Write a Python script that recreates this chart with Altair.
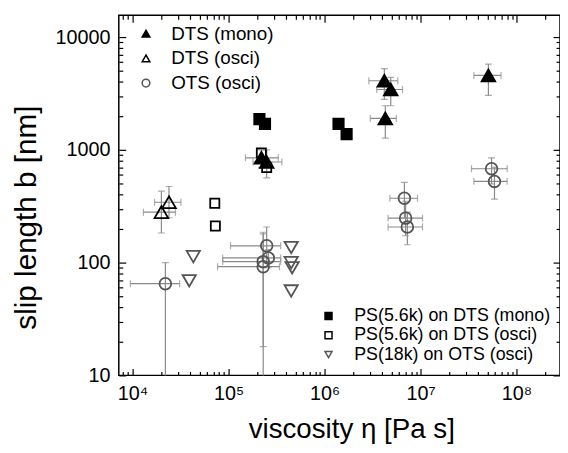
import altair as alt
import pandas as pd

# ---------------- data ----------------
# DTS (mono): filled up-triangles with error bars
dts_mono_x = [4.2e6, 4.9e6, 4.3e6, 5.1e7, 2.2e5, 2.5e5]
dts_mono_y = [4100, 3430, 1900, 4570, 850, 780]
dts_mono_xlo = [2.9e6, 3.5e6, 3.0e6, 3.6e7, 1.5e5, 1.8e5]
dts_mono_xhi = [5.8e6, 6.5e6, 5.6e6, 6.9e7, 3.3e5, 3.6e5]
dts_mono_ylo = [2800, 2460, 1270, 3040, 700, 565]
dts_mono_yhi = [5250, 4400, 2460, 5760, 1000, 1000]

# DTS (osci): open up-triangles with error bars
dts_osci_x = [2.4e4, 2.0e4]
dts_osci_y = [343, 280]
dts_osci_xlo = [1.7e4, 1.3e4]
dts_osci_xhi = [3.2e4, 2.8e4]
dts_osci_ylo = [250, 183]
dts_osci_yhi = [473, 430]

# OTS (osci): open grey circles with error bars
ots_x = [2.2e4, 2.5e5, 2.6e5, 2.3e5, 2.3e5, 6.8e6, 7.0e6, 7.3e6, 5.5e7, 5.9e7]
ots_y = [65, 141, 110, 102, 92, 372, 248, 207, 680, 525]
ots_xlo = [9.5e3, 1.05e5, 8.7e4, 8.7e4, 7.7e4, 4.8e6, 4.6e6, 4.6e6, 3.4e7, 3.6e7]
ots_xhi = [3.1e4, 3.5e5, 3.5e5, 3.5e5, 3.4e5, 9.3e6, 1.05e7, 1.05e7, 8.0e7, 8.0e7]
ots_ylo = [1, 100, 90, 18, 1, 250, 173, 144, 500, 365]
ots_yhi = [100, 207, 130, 186, 180, 515, 350, 280, 850, 700]

# PS(5.6k) on DTS (mono): filled squares
ps_mono_x = [2.1e5, 2.4e5, 1.4e6, 1.7e6]
ps_mono_y = [1870, 1700, 1700, 1380]
# PS(5.6k) on DTS (osci): open squares
ps_osci_x = [7.2e4, 7.3e4, 2.2e5, 2.5e5]
ps_osci_y = [336, 211, 940, 695]
# PS(18k) on OTS (osci): open grey down-triangles
ps18_x = [4.3e4, 3.9e4, 4.5e5, 4.5e5, 4.6e5, 4.5e5]
ps18_y = [113, 69, 136, 100, 90, 56]

names_a = ["DTS (mono)", "DTS (osci)", "OTS (osci)"]
names_b = ["PS(5.6k) on DTS (mono)", "PS(5.6k) on DTS (osci)", "PS(18k) on OTS (osci)"]

x_major = [1e4, 1e5, 1e6, 1e7, 1e8]
y_major = [10, 100, 1000, 10000]
x_minor = [m * 10 ** k for k in range(3, 9) for m in range(2, 10) if 7200 < m * 10 ** k < 2.8e8]
y_minor = [m * 10 ** k for k in range(1, 4) for m in range(2, 10)]

# ---------------- tables ----------------
dfA = pd.concat([
    pd.DataFrame({"x": dts_mono_x, "y": dts_mono_y, "s": names_a[0]}),
    pd.DataFrame({"x": dts_osci_x, "y": dts_osci_y, "s": names_a[1]}),
    pd.DataFrame({"x": ots_x, "y": ots_y, "s": names_a[2]}),
], ignore_index=True)

dfB = pd.concat([
    pd.DataFrame({"x": ps_mono_x, "y": ps_mono_y, "t": names_b[0]}),
    pd.DataFrame({"x": ps_osci_x, "y": ps_osci_y, "t": names_b[1]}),
    pd.DataFrame({"x": ps18_x, "y": ps18_y, "t": names_b[2]}),
], ignore_index=True)

dfE = pd.concat([
    pd.DataFrame({"x": dts_mono_x, "y": dts_mono_y, "xlo": dts_mono_xlo, "xhi": dts_mono_xhi,
                  "ylo": dts_mono_ylo, "yhi": dts_mono_yhi}),
    pd.DataFrame({"x": dts_osci_x, "y": dts_osci_y, "xlo": dts_osci_xlo, "xhi": dts_osci_xhi,
                  "ylo": dts_osci_ylo, "yhi": dts_osci_yhi}),
    pd.DataFrame({"x": ots_x, "y": ots_y, "xlo": ots_xlo, "xhi": ots_xhi,
                  "ylo": ots_ylo, "yhi": ots_yhi}),
], ignore_index=True)

# ---------------- scales ----------------
W, H = 446, 364
xs = alt.Scale(type="log", domain=[7200, 2.84e8], nice=False)
ys = alt.Scale(type="log", domain=[10, 15600], nice=False)
FONT = "Liberation Sans"
ECOL = "#8a8a8a"
GREY = "#555555"

# ---------------- error bars ----------------
e = alt.Chart(dfE)
err_h = e.mark_rule(color=ECOL, strokeWidth=1.2, clip=True).encode(
    x=alt.X("xlo:Q", scale=xs, axis=None), x2="xhi:Q",
    y=alt.Y("y:Q", scale=ys, axis=None))
err_v = e.mark_rule(color=ECOL, strokeWidth=1.2, clip=True).encode(
    x=alt.X("x:Q", scale=xs, axis=None),
    y=alt.Y("ylo:Q", scale=ys, axis=None), y2="yhi:Q")
cap_xlo = e.mark_tick(orient="vertical", size=7, thickness=1.2, color=ECOL, clip=True).encode(
    x=alt.X("xlo:Q", scale=xs, axis=None), y=alt.Y("y:Q", scale=ys, axis=None))
cap_xhi = e.mark_tick(orient="vertical", size=7, thickness=1.2, color=ECOL, clip=True).encode(
    x=alt.X("xhi:Q", scale=xs, axis=None), y=alt.Y("y:Q", scale=ys, axis=None))
cap_ylo = e.mark_tick(orient="horizontal", size=7, thickness=1.2, color=ECOL, clip=True).encode(
    x=alt.X("x:Q", scale=xs, axis=None), y=alt.Y("ylo:Q", scale=ys, axis=None))
cap_yhi = e.mark_tick(orient="horizontal", size=7, thickness=1.2, color=ECOL, clip=True).encode(
    x=alt.X("x:Q", scale=xs, axis=None), y=alt.Y("yhi:Q", scale=ys, axis=None))

# ---------------- points ----------------
legA = alt.Legend(orient="none", legendX=18, legendY=9, title=None, symbolSize=60,
                  labelFontSize=19, labelFont=FONT, labelColor="black", labelOffset=16,
                  labelLimit=400, rowPadding=5, symbolStrokeWidth=1.5, padding=0)
sizeA = {"condition": [{"test": "datum.s === 'OTS (osci)'", "value": 140}], "value": 190}
pointsA = alt.Chart(dfA).mark_point(opacity=1, strokeWidth=1.8, clip=True).encode(
    x=alt.X("x:Q", scale=xs, title="viscosity η [Pa s]",
            axis=alt.Axis(orient="bottom", values=x_major, ticks=False, tickSize=0, domain=False,
                          grid=False, labelFontSize=20, labelFont=FONT, labelColor="black",
                          labelPadding=8, labelFlush=False,
                          labelExpr="'10' + ['⁰','¹','²','³','⁴','⁵','⁶','⁷','⁸','⁹'][round(log(datum.value)/LN10)]",
                          titleFontSize=28, titleFont=FONT, titleFontWeight="normal",
                          titleColor="black", titleX=235, titleY=55, titleBaseline="middle")),
    y=alt.Y("y:Q", scale=ys, title="slip length b [nm]",
            axis=alt.Axis(orient="left", values=y_major, ticks=False, tickSize=0, domain=False,
                          grid=False, labelFontSize=20, labelFont=FONT, labelColor="black",
                          labelPadding=9, format="d", labelFlush=False,
                          titleFontSize=30, titleFont=FONT, titleFontWeight="normal",
                          titleColor="black", titleX=-93, titleY=204, titleAngle=-90,
                          titleBaseline="middle")),
    shape=alt.Shape("s:N", scale=alt.Scale(domain=names_a, range=["triangle-up", "triangle-up", "circle"]), legend=legA),
    fill=alt.Fill("s:N", scale=alt.Scale(domain=names_a, range=["black", "transparent", "transparent"]), legend=legA),
    stroke=alt.Stroke("s:N", scale=alt.Scale(domain=names_a, range=["black", "black", GREY]), legend=legA),
    size=sizeA,
)

legB = alt.Legend(orient="none", legendX=203, legendY=295, title=None, symbolSize=50,
                  labelFontSize=18, labelFont=FONT, labelColor="black", labelOffset=17,
                  labelLimit=400, rowPadding=1.5, symbolStrokeWidth=1.5, padding=0)
sizeB = {"condition": [{"test": "datum.t === 'PS(5.6k) on DTS (mono)'", "value": 110},
                       {"test": "datum.t === 'PS(5.6k) on DTS (osci)'", "value": 85}],
         "value": 180}
pointsB = alt.Chart(dfB).mark_point(opacity=1, strokeWidth=1.8, clip=True).encode(
    x=alt.X("x:Q", scale=xs, axis=None),
    y=alt.Y("y:Q", scale=ys, axis=None),
    shape=alt.Shape("t:N", scale=alt.Scale(domain=names_b, range=["square", "square", "triangle-down"]), legend=legB),
    fill=alt.Fill("t:N", scale=alt.Scale(domain=names_b, range=["black", "transparent", "transparent"]), legend=legB),
    stroke=alt.Stroke("t:N", scale=alt.Scale(domain=names_b, range=["black", "black", GREY]), legend=legB),
    size=sizeB,
)

# ---------------- inward ticks on all four sides ----------------
def tick_layer(xorient, xoff, yorient, yoff, xvals, yvals, size):
    xa = alt.Axis(orient=xorient, offset=xoff, values=xvals, labels=False, domain=False,
                  grid=False, ticks=True, tickSize=size, tickColor="black", tickWidth=1.2)
    ya = alt.Axis(orient=yorient, offset=yoff, values=yvals, labels=False, domain=False,
                  grid=False, ticks=True, tickSize=size, tickColor="black", tickWidth=1.2)
    return alt.Chart(dfA).mark_point(opacity=0).encode(
        x=alt.X("x:Q", scale=xs, axis=xa, title=None),
        y=alt.Y("y:Q", scale=ys, axis=ya, title=None))

t1 = tick_layer("top", -H, "right", -W, x_major, y_major, 7)
t2 = tick_layer("top", -H, "right", -W, x_minor, y_minor, 4)
t3 = tick_layer("bottom", -H, "left", -W, x_major, y_major, 7)
t4 = tick_layer("bottom", -H, "left", -W, x_minor, y_minor, 4)

chart = alt.layer(
    err_h, err_v, cap_xlo, cap_xhi, cap_ylo, cap_yhi, pointsA, pointsB, t1, t2, t3, t4
).resolve_axis(
    x="independent", y="independent"
).resolve_scale(
    shape="independent", fill="independent", stroke="independent"
).properties(
    width=W, height=H,
    autosize=alt.AutoSizeParams(type="none"),
    padding={"left": 112, "top": 5, "right": 0, "bottom": 68},
).configure(
    font=FONT
).configure_view(
    stroke="black", strokeWidth=1.5
)

chart.save("out.html", embed_options={"renderer": "svg", "actions": False})
